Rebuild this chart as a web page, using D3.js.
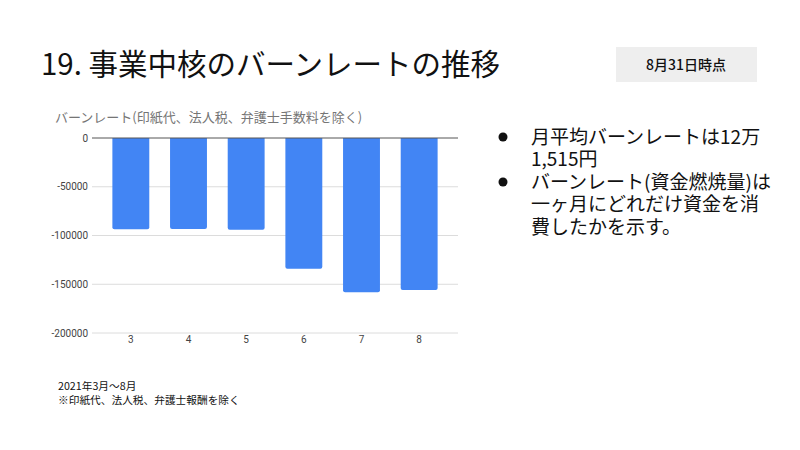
<!DOCTYPE html>
<html><head><meta charset="utf-8">
<script src="https://cdn.jsdelivr.net/npm/d3@7"></script>
<style>
html,body{margin:0;padding:0;background:#fff;}
svg{display:block;font-family:"Noto Sans CJK JP","Noto Sans",sans-serif;}
</style></head>
<body><svg id="c" width="800" height="450"></svg>
<script>
const months = ["3","4","5","6","7","8"];
const burnRate = [-93500,-93300,-94200,-134000,-158300,-155800];
const yTicks = [0,-50000,-100000,-150000,-200000];
const chartTitle = "バーンレート(印紙代、法人税、弁護士手数料を除く)";
const pageTitle = "19. 事業中核のバーンレートの推移";
const badge = "8月31日時点";
const notes = ["2021年3月～8月","※印紙代、法人税、弁護士報酬を除く"];
const bullets = [["月平均バーンレートは12万","1,515円"],["バーンレート(資金燃焼量)は","一ヶ月にどれだけ資金を消","費したかを示す。"]];

const svg = d3.select("#c");
svg.append("rect").attr("width",800).attr("height",450).attr("fill","#fff");

svg.append("text").attr("x",41).attr("y",75).attr("font-size",29.5).attr("fill","#111").text(pageTitle);

svg.append("rect").attr("x",616).attr("y",47).attr("width",141).attr("height",35).attr("fill","#eeeeee");
svg.append("text").attr("x",686).attr("y",70).attr("text-anchor","middle").attr("font-size",14).attr("font-weight",500).attr("fill","#111").text(badge);

svg.append("text").attr("x",55).attr("y",122).attr("font-size",13).attr("fill","#757575").text(chartTitle);

const x = d3.scaleBand().domain(months).range([102,448]).paddingInner(0.36).paddingOuter(0.18);
const y = d3.scaleLinear().domain([-200000,0]).range([333,138]);

const g = svg.append("g");
g.selectAll("line.grid").data(yTicks.filter(d=>d!==0)).join("line")
  .attr("x1",92).attr("x2",458).attr("y1",d=>y(d)).attr("y2",d=>y(d))
  .attr("stroke","#dcdcdc").attr("stroke-width",1);

const yAxis = d3.axisLeft(y).tickValues(yTicks).tickSize(0).tickPadding(0).tickFormat(d=>String(d));
const ya = g.append("g").attr("transform","translate(88,0)").call(yAxis);
ya.select(".domain").remove();
ya.selectAll("text").attr("font-size",10).attr("fill","#444").attr("font-family","Roboto, 'Liberation Sans', sans-serif");

const r = 2;
g.selectAll("path.bar").data(burnRate).join("path")
  .attr("fill","#4285f4")
  .attr("d",(d,i)=>{
    const x0 = x(months[i]), w = x.bandwidth(), y0 = y(0), y1 = y(d);
    return `M${x0},${y0}L${x0+w},${y0}L${x0+w},${y1-r}Q${x0+w},${y1} ${x0+w-r},${y1}L${x0+r},${y1}Q${x0},${y1} ${x0},${y1-r}Z`;
  });

g.append("line").attr("x1",92).attr("x2",458).attr("y1",y(0)).attr("y2",y(0)).attr("stroke","#555").attr("stroke-width",1);

const xAxis = d3.axisBottom(x).tickSize(0).tickPadding(0);
const xa = g.append("g").attr("transform","translate(0,336)").call(xAxis);
xa.select(".domain").remove();
xa.selectAll("text").attr("font-size",10).attr("fill","#444").attr("dy","0.71em").attr("font-family","Roboto, 'Liberation Sans', sans-serif");

notes.forEach((t,i)=>{
  svg.append("text").attr("x",58).attr("y",390+i*14).attr("font-size",10.7).attr("fill","#111").text(t);
});

let line = 0;
const lineY = l => 143.5 + l*22.5;
bullets.forEach(b=>{
  svg.append("circle").attr("cx",503).attr("cy",lineY(line)-6.5).attr("r",4.5).attr("fill","#111");
  b.forEach(t=>{
    svg.append("text").attr("x",531).attr("y",lineY(line)).attr("font-size",19).attr("fill","#111").text(t);
    line++;
  });
});
</script></body></html>
